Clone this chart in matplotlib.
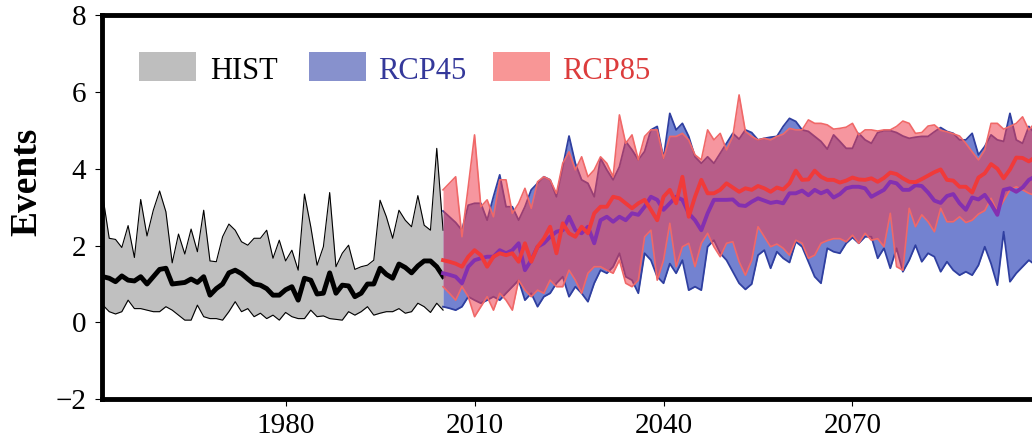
import numpy as np
import matplotlib
matplotlib.use("Agg")
import matplotlib.pyplot as plt
from matplotlib.patches import Rectangle

plt.rcParams['font.family'] = ['Liberation Serif', 'DejaVu Serif']

# historical ensemble (min / mean / max)
hist_years = np.arange(1951, 2006)
hist_hi = [3.27, 2.19, 2.16, 1.95, 2.52, 1.69, 3.20, 2.25, 2.92, 3.42,
           2.88, 1.55, 2.30, 1.78, 2.43, 1.84, 2.92, 1.60, 1.58, 2.23,
           2.56, 2.40, 2.10, 2.01, 2.19, 2.19, 2.40, 1.67, 2.14, 1.60,
           1.88, 1.36, 3.34, 2.49, 1.49, 1.97, 3.38, 1.45, 1.80, 2.01,
           1.38, 1.45, 1.49, 1.62, 3.18, 2.75, 2.19, 2.92, 2.66, 2.49,
           3.30, 2.53, 2.40, 4.53, 2.40]
hist_mean = [1.19, 1.15, 1.06, 1.21, 1.10, 1.08, 1.19, 1.00, 1.19, 1.38,
             1.41, 1.00, 1.02, 1.04, 1.13, 1.04, 1.19, 0.71, 0.88, 1.00,
             1.29, 1.36, 1.27, 1.13, 1.00, 0.97, 0.88, 0.71, 0.71, 0.85,
             0.93, 0.58, 1.15, 1.10, 0.74, 0.76, 1.29, 0.76, 0.97, 0.95,
             0.67, 0.76, 1.00, 1.00, 1.41, 1.25, 1.15, 1.52, 1.43, 1.29,
             1.47, 1.60, 1.60, 1.45, 1.20]
hist_lo = [0.45, 0.28, 0.22, 0.28, 0.58, 0.36, 0.36, 0.32, 0.28, 0.28,
           0.41, 0.32, 0.19, 0.06, 0.06, 0.45, 0.15, 0.10, 0.10, 0.06,
           0.28, 0.54, 0.28, 0.36, 0.15, 0.24, 0.10, 0.19, 0.06, 0.26,
           0.15, 0.10, 0.10, 0.32, 0.15, 0.17, 0.10, 0.08, 0.06, 0.28,
           0.19, 0.28, 0.41, 0.19, 0.24, 0.28, 0.28, 0.36, 0.24, 0.28,
           0.50, 0.41, 0.26, 0.50, 0.32]

# scenario ensembles
rcp_years = np.arange(2005, 2101)
rcp45_hi = [2.90, 2.75, 2.60, 2.40, 3.05, 3.10, 3.10, 2.66, 3.27, 3.84,
            3.01, 3.01, 2.66, 3.01, 3.45, 3.62, 3.79, 3.71, 3.27, 4.05,
            4.85, 4.14,
            3.71, 3.62, 3.27, 4.27, 3.97, 3.71, 4.05, 4.71, 4.49, 4.23,
            4.45, 5.01, 5.10, 4.27, 5.44, 5.01, 5.18, 4.84, 4.31, 4.14,
            4.31, 4.14, 4.40, 4.66,
            4.92, 4.77, 5.01, 4.94, 4.75, 4.79, 4.82, 4.84, 5.10, 5.31,
            5.23, 5.01, 4.97, 4.84, 4.71, 4.51, 4.88, 4.71, 4.53, 4.53,
            4.92, 4.75, 4.66,
            4.94, 4.99, 4.99, 4.94, 4.85, 4.79, 4.82, 4.84, 4.84, 4.96,
            5.07, 4.97, 4.92, 4.75, 4.75, 4.92, 4.36, 4.58, 4.88, 4.75,
            4.71, 5.44, 4.75, 4.66, 5.10, 4.90, 5.00]
rcp45_mean = [1.28, 1.24, 1.19, 1.02, 1.45, 1.62, 1.67, 1.71, 1.71, 1.88,
              1.80, 1.88, 2.06, 1.36, 1.62, 1.97, 2.06, 2.23, 2.36, 2.40,
              2.75, 2.40,
              2.32, 2.49, 2.06, 2.66, 2.75, 2.62, 2.75, 2.66, 2.84, 2.80,
              3.01, 3.27, 3.19, 2.93, 3.10, 3.27, 3.19, 2.84, 2.66, 2.40,
              2.84, 3.19, 3.19, 3.19,
              3.20, 3.05, 3.03, 3.14, 3.23, 3.17, 3.11, 3.14, 3.10, 3.36,
              3.36, 3.43, 3.31, 3.45, 3.36, 3.43, 3.25, 3.34, 3.49, 3.53,
              3.53, 3.49, 3.27,
              3.36, 3.45, 3.66, 3.62, 3.45, 3.45, 3.57, 3.55, 3.38, 3.17,
              3.11, 3.29, 3.34, 3.10, 2.93, 3.25, 3.20, 3.32, 3.08, 2.80,
              3.45, 3.49, 3.40, 3.51, 3.71, 3.80, 3.70]
rcp45_lo = [0.41, 0.37, 0.32, 0.41, 0.67, 0.58, 0.50, 0.58, 0.67, 0.58,
            0.76, 0.93, 1.10, 0.58, 0.76, 0.41, 0.67, 0.76, 1.02, 1.19,
            0.67, 0.93,
            0.76, 0.54, 1.02, 1.36, 1.28, 1.45, 1.80, 1.19, 1.10, 0.76,
            1.80, 1.62, 1.19, 1.02, 1.53, 1.28, 1.62, 0.84, 0.93, 0.84,
            1.97, 2.14, 1.80, 1.62,
            1.32, 1.02, 0.86, 1.00, 1.75, 1.88, 1.41, 1.84, 1.67, 1.56,
            2.10, 1.97, 1.58, 1.19, 1.02, 1.93, 1.84, 1.80, 2.06, 2.21,
            2.06, 2.23, 2.23,
            1.67, 1.93, 1.41, 1.93, 1.32, 1.62, 2.01, 1.58, 1.80, 1.71,
            1.32, 1.58, 1.36, 1.23, 1.32, 1.23, 1.49, 1.97, 1.53, 0.97,
            2.36, 1.06, 1.28, 1.45, 1.62, 1.50, 1.70]

rcp85_hi = [3.45, 3.62, 3.79, 2.23, 3.53, 4.88, 3.01, 3.19, 2.75, 3.71,
            3.71, 2.84, 3.10, 3.49, 2.97, 3.66, 3.79, 3.71, 3.36, 4.14,
            4.44, 3.97,
            4.31, 3.79, 3.97, 4.31, 4.14, 3.79, 5.40, 4.66, 4.88, 4.23,
            4.84, 5.01, 5.01, 4.27, 4.84, 4.84, 4.92, 4.75, 4.36, 4.23,
            5.01, 4.75, 4.92, 4.49,
            4.84, 5.92, 4.97, 4.84, 4.75, 4.79, 4.75, 4.84, 4.90, 5.05,
            5.01, 5.01, 5.27, 5.18, 5.18, 5.14, 5.03, 5.05, 5.08, 5.18,
            4.88, 5.01, 5.01,
            4.98, 5.01, 5.01, 5.10, 5.24, 5.18, 4.92, 4.94, 5.11, 5.14,
            5.00, 4.96, 4.91, 4.85, 4.66, 4.44, 4.23, 4.49, 5.18, 5.18,
            5.03, 5.10, 5.18, 5.35, 5.01, 5.20, 5.40]
rcp85_mean = [1.62, 1.58, 1.53, 1.45, 1.71, 1.88, 1.75, 1.45, 1.71, 1.80,
              1.75, 1.80, 1.58, 2.06, 1.58, 1.97, 2.18, 2.49, 1.80, 2.58,
              2.32, 2.23,
              2.49, 2.32, 2.84, 3.01, 3.01, 3.27, 3.23, 3.10, 2.97, 3.10,
              3.19, 2.93, 2.66, 3.27, 3.45, 3.10, 3.79, 2.75, 3.27, 3.71,
              3.36, 3.36, 3.45, 3.62,
              3.51, 3.40, 3.49, 3.45, 3.55, 3.49, 3.40, 3.51, 3.46, 3.62,
              3.95, 3.71, 3.72, 3.95, 3.79, 3.71, 3.71, 3.64, 3.69, 3.77,
              3.72, 3.71, 3.75,
              3.66, 3.76, 3.90, 3.86, 3.75, 3.66, 3.65, 3.73, 3.82, 3.91,
              3.98, 3.71, 3.69, 3.53, 3.53, 3.38, 3.77, 3.88, 4.12, 4.00,
              3.75, 3.98, 4.29, 4.28, 4.19, 4.30, 4.20]
rcp85_lo = [0.93, 0.76, 0.58, 0.93, 0.67, 0.15, 0.41, 0.67, 0.32, 0.76,
            0.58, 0.32, 1.10, 0.84, 0.67, 0.84, 0.76, 1.10, 0.93, 0.93,
            1.36, 1.10,
            0.76, 1.28, 1.45, 1.45, 1.36, 1.28, 1.62, 1.02, 0.93, 1.10,
            2.23, 2.40, 1.10, 1.62, 2.58, 1.45, 1.97, 2.06, 1.45, 2.06,
            2.32, 1.97, 1.71, 2.06,
            2.10, 1.58, 1.23, 1.62, 2.49, 2.23, 1.97, 2.04, 1.93, 1.75,
            2.14, 2.06, 1.67, 1.75, 2.06, 2.13, 2.18, 2.18, 2.10, 2.27,
            2.06, 2.32, 2.14,
            2.18, 1.97, 2.84, 1.45, 1.36, 2.97, 2.49, 2.80, 2.62, 2.36,
            2.97, 2.62, 2.62, 2.75, 2.60, 2.66, 2.82, 2.91, 3.23, 2.88,
            3.17, 3.45, 3.53, 3.45, 3.36, 3.30, 3.40]

labels = ["HIST", "RCP45", "RCP85"]

fig = plt.figure(figsize=(10.32, 4.42), dpi=100)
ax = fig.add_axes([0.0985, 0.0966, 0.9015, 0.8695])

# HIST
ax.fill_between(hist_years, hist_lo, hist_hi, color='#c0c0c0', lw=0, zorder=1)
ax.plot(hist_years, hist_hi, color='black', lw=0.8, zorder=2)
ax.plot(hist_years, hist_lo, color='black', lw=0.8, zorder=2)
ax.plot(hist_years, hist_mean, color='black', lw=3.5, zorder=2)

# RCP45
ax.fill_between(rcp_years, rcp45_lo, rcp45_hi, color='#5a6cc8', alpha=0.85, lw=0, zorder=3)
ax.plot(rcp_years, rcp45_hi, color='#2f3fa0', lw=1.3, zorder=3)
ax.plot(rcp_years, rcp45_lo, color='#2f3fa0', lw=1.3, zorder=3)

# RCP85
ax.fill_between(rcp_years, rcp85_lo, rcp85_hi, color='#f04050', alpha=0.55, lw=0, zorder=4)
ax.plot(rcp_years, rcp85_hi, color='#f06868', lw=1.2, zorder=4)
ax.plot(rcp_years, rcp85_lo, color='#f06868', lw=1.2, zorder=4)

ax.plot(rcp_years, rcp45_mean, color='#8430b0', lw=2.8, zorder=5)
ax.plot(rcp_years, rcp85_mean, color='#f03a3a', lw=2.8, zorder=6)

ax.set_xlim(1950.8, 2098.5)
ax.set_ylim(-2, 8)
ax.set_xticks([1980, 2010, 2040, 2070])
ax.set_yticks([-2, 0, 2, 4, 6, 8])
ax.tick_params(direction='out', length=5, width=0.8, labelsize=21)
ax.tick_params(axis='y', pad=6)
ax.tick_params(axis='x', pad=5)
for s in ['left', 'bottom', 'top']:
    ax.spines[s].set_linewidth(3.5)
ax.spines['right'].set_visible(False)

fig.text(0.026, 0.588, "Events", rotation=90, ha='center', va='center',
         fontsize=27, fontweight='bold')

# legend drawn by hand
W, H = 1032.0, 442.0
patch_cols = ['#bebebe', '#8791cd', '#f89696']
text_cols = ['black', '#34389a', '#dc3c3c']
patch_x = [139, 309, 493]
text_x = [210, 378, 562]
for lab, pc, tc, px, tx in zip(labels, patch_cols, text_cols, patch_x, text_x):
    fig.patches.append(Rectangle((px / W, (H - 81) / H), 57 / W, 29 / H,
                                 transform=fig.transFigure, facecolor=pc,
                                 edgecolor='none'))
    fig.text(tx / W, (H - 79) / H, lab, color=tc, fontsize=22,
             ha='left', va='baseline')

fig.savefig("out.png", dpi=100)
